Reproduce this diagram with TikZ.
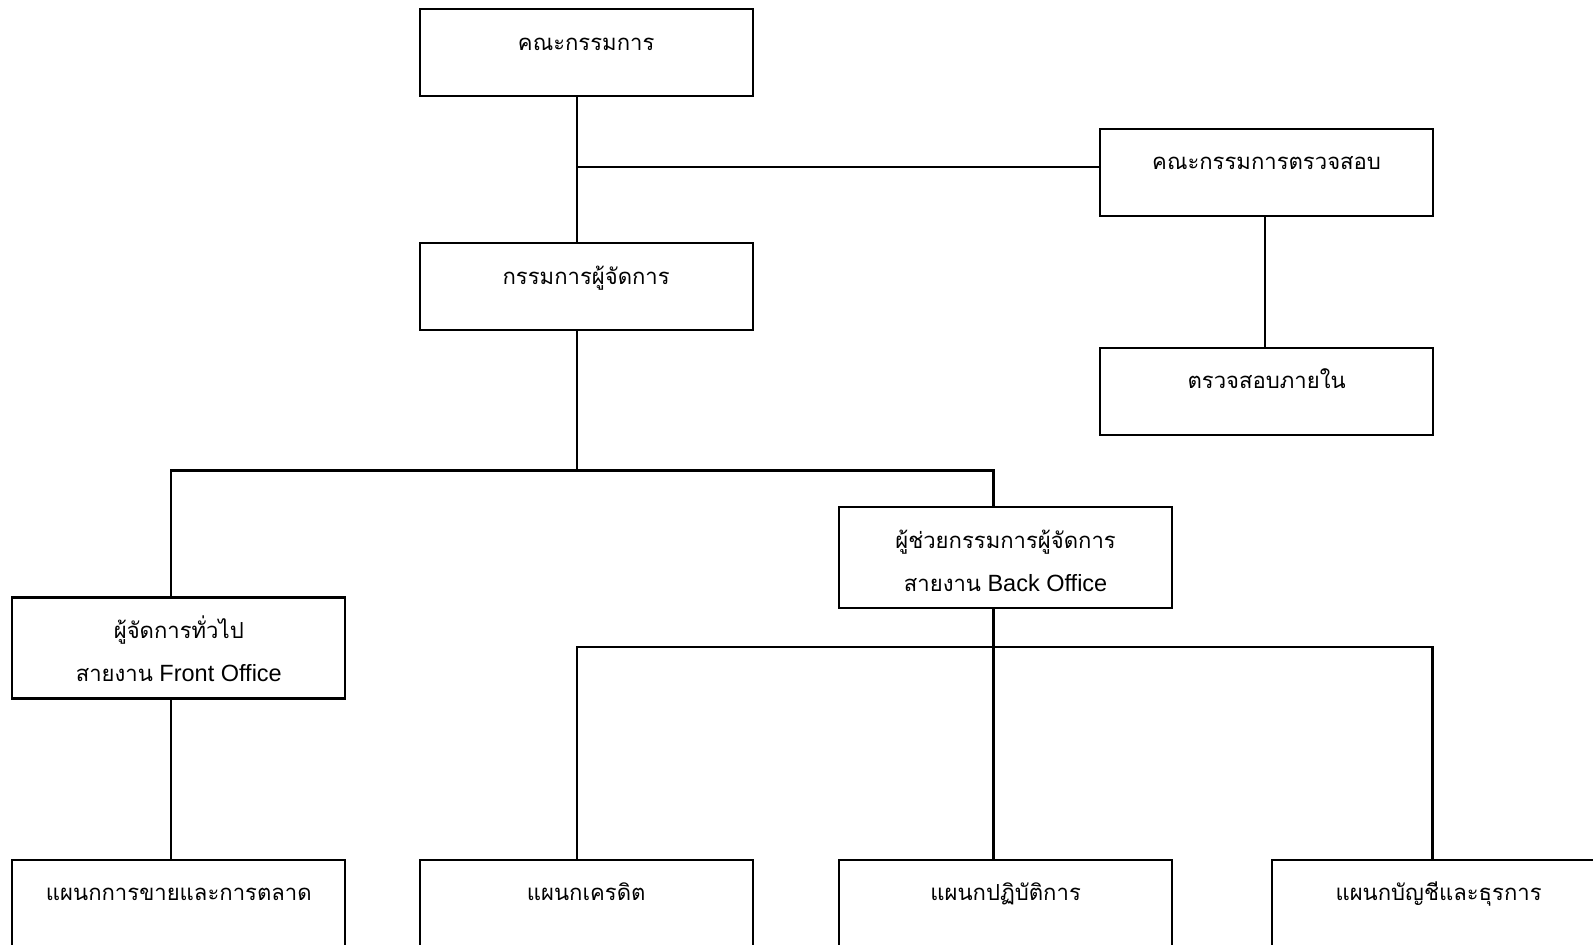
\documentclass[tikz,border=0pt]{standalone}
\usepackage{fontspec}
\setmainfont{Liberation Sans}
\newfontfamily\thai[Script=Thai,Scale=0.94]{Loma}
\tikzset{
  orgbox/.style={draw, line width=2.2pt, minimum width=333pt, minimum height=87pt, anchor=north west, inner sep=0pt},
  tallbox/.style={minimum height=101pt},
  lbl/.style={anchor=north, inner sep=0pt, align=center, font=\fontsize{23.5}{43}\selectfont, yshift=-14pt},
  link/.style={line width=2.2pt},
}
\newcommand{\fl}{\rule{0pt}{28pt}}
\begin{document}
\begin{tikzpicture}[x=1pt,y=-1pt]
\useasboundingbox (0,0) rectangle (1593,945);
\clip (0,0) rectangle (1593,945);
% column and level coordinates
\coordinate (cA) at (577,0);
\coordinate (cFO) at (171,0);
\coordinate (cBO) at (993.5,0);
\coordinate (cAud) at (1265,0);
\coordinate (cR) at (1432.4,0);
\coordinate (lvl1) at (0,166.6);
\coordinate (lvl2) at (0,470.5);
\coordinate (lvl3) at (0,647);
% boxes
\node[orgbox, label={[lbl]north:{\fl\thai คณะกรรมการ}}] (board) at (418.6,8) {};
\node[orgbox, label={[lbl]north:{\fl\thai คณะกรรมการตรวจสอบ}}] (aud) at (1099,127.5) {};
\node[orgbox, label={[lbl]north:{\fl\thai กรรมการผู้จัดการ}}] (md) at (418.6,242) {};
\node[orgbox, label={[lbl]north:{\fl\thai ตรวจสอบภายใน}}] (ia) at (1099,346.5) {};
\node[orgbox, tallbox, label={[lbl]north:{\fl\thai ผู้ช่วยกรรมการผู้จัดการ\\{\thai สายงาน} Back Office}}] (bo) at (838,506) {};
\node[orgbox, tallbox, label={[lbl]north:{\fl\thai ผู้จัดการทั่วไป\\{\thai สายงาน} Front Office}}] (fo) at (11.2,596.3) {};
\node[orgbox, label={[lbl]north:{\fl\thai แผนกการขายและการตลาด}}] (d1) at (11.2,858.5) {};
\node[orgbox, label={[lbl]north:{\fl\thai แผนกเครดิต}}] (d2) at (418.6,858.5) {};
\node[orgbox, label={[lbl]north:{\fl\thai แผนกปฏิบัติการ}}] (d3) at (838,858.5) {};
\node[orgbox, label={[lbl]north:{\fl\thai แผนกบัญชีและธุรการ}}] (d4) at (1271,858.5) {};
% connectors
\draw[link] (board.south -| cA) -- (md.north -| cA);
\draw[link] (cA |- lvl1) -- (aud.west |- lvl1);
\draw[link] (aud.south -| cAud) -- (ia.north -| cAud);
\draw[link] (md.south -| cA) -- (cA |- lvl2);
\draw[link] (fo.north -| cFO) -- (cFO |- lvl2) -- (cBO |- lvl2) -- (bo.north -| cBO);
\draw[link] (bo.south -| cBO) -- (d3.north -| cBO);
\draw[link] (d2.north -| cA) -- (cA |- lvl3) -- (cR |- lvl3) -- (d4.north -| cR);
\draw[link] (fo.south -| cFO) -- (d1.north -| cFO);
\end{tikzpicture}
\end{document}
